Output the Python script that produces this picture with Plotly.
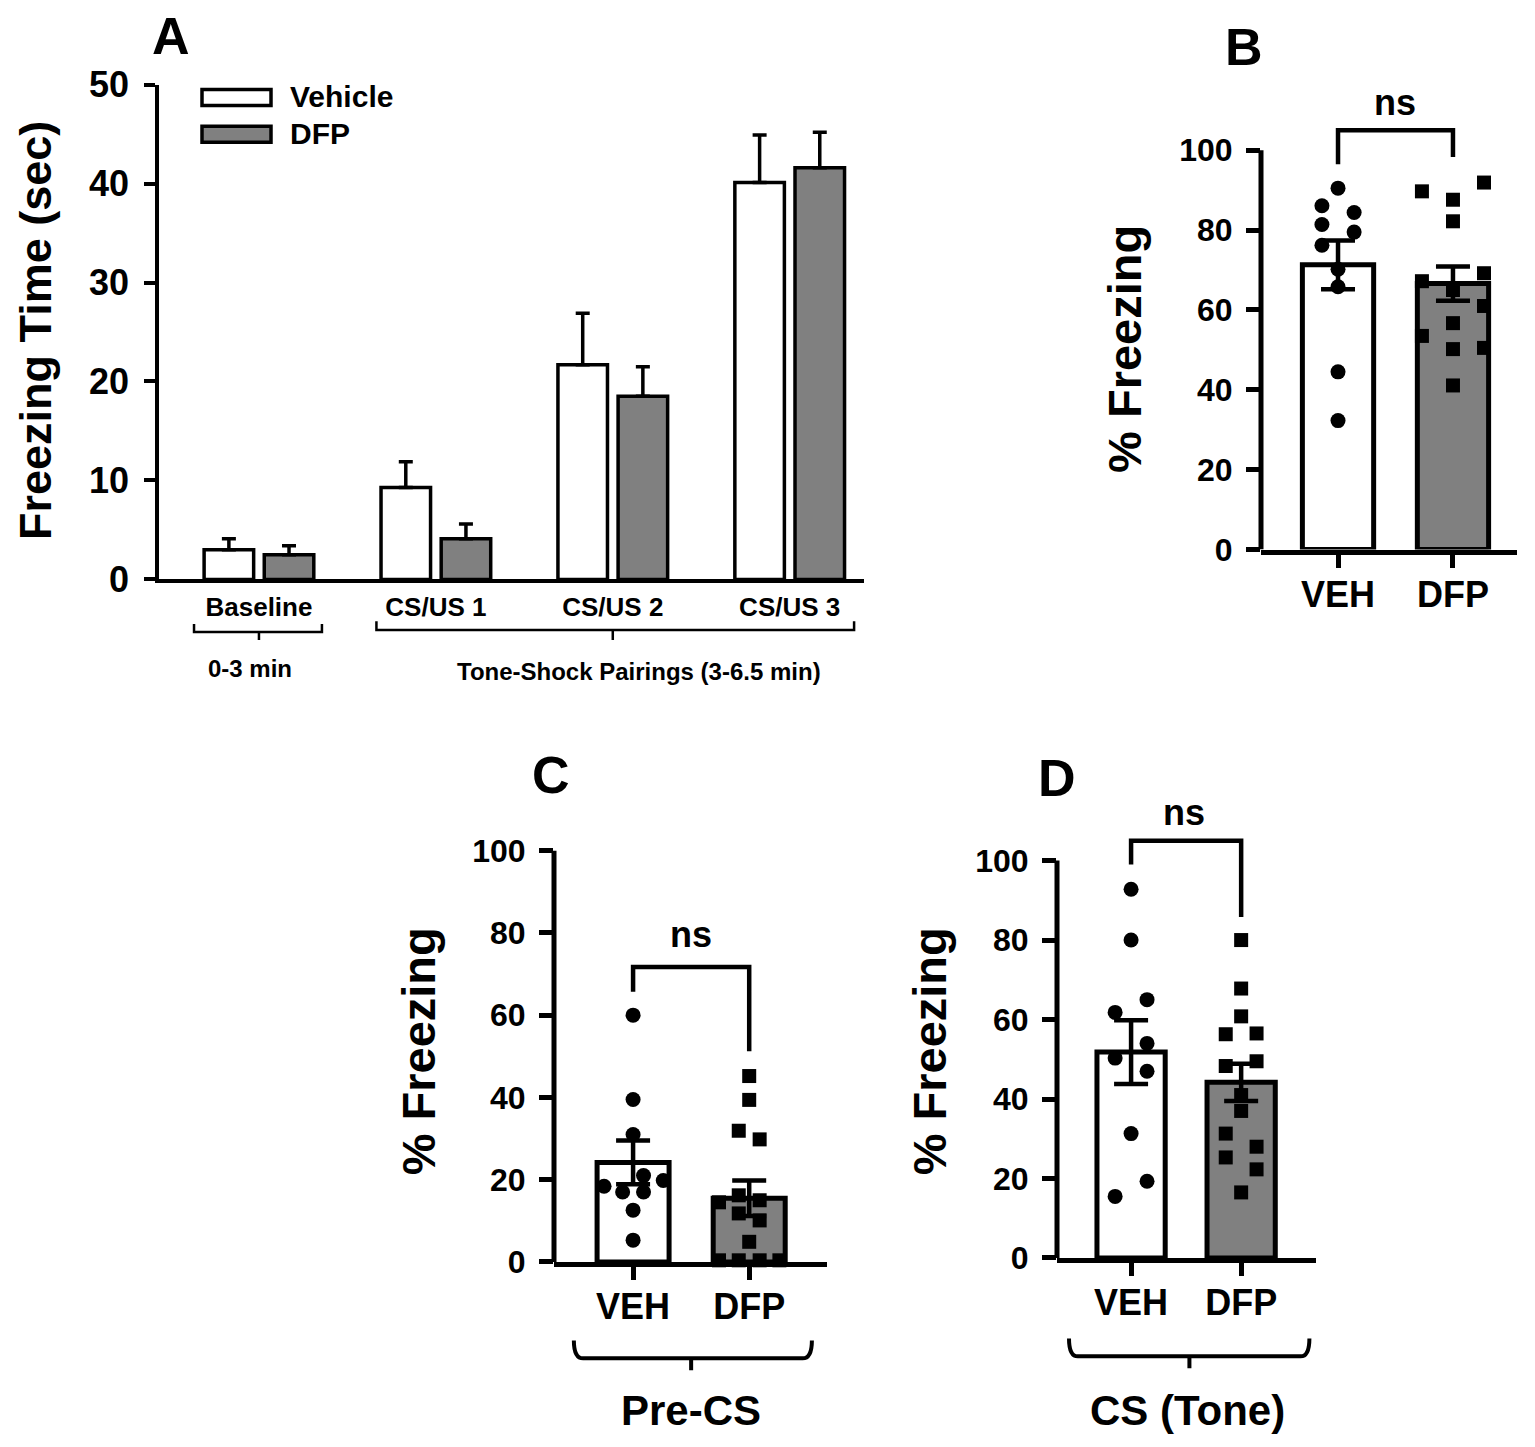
import plotly.graph_objects as go

W, H = 1535, 1447
FONT = "Liberation Sans, Arial, sans-serif"

# the page comes out slightly offset/squeezed in the photo; compensate
OX, OY, SY = 4, 25, 0.978


def fx(px):
    return (px - OX) / W


def fy(py):
    return (H - (py - OY) / SY) / H


# --- Panel A: freezing time during conditioning ---
a_categories = ["Baseline", "CS/US 1", "CS/US 2", "CS/US 3"]
a_vehicle = [3.0, 9.3, 21.7, 40.1]
a_vehicle_err = [1.1, 2.6, 5.2, 4.8]
a_dfp = [2.5, 4.1, 18.5, 41.6]
a_dfp_err = [0.9, 1.5, 3.0, 3.6]

# --- Panel B: contextual % freezing ---
b_veh = [90.5, 86.1, 84.4, 81.4, 79.5, 76.2, 70.2, 65.8, 44.5, 32.3]
b_veh_jit = [0, -0.14, 0.14, -0.14, 0.14, -0.14, 0, 0, 0, 0]
b_dfp = [91.9, 89.7, 87.6, 82.2, 69.2, 67.2, 65.0, 61.0, 56.7, 53.5, 50.2, 50.5, 41.1]
b_dfp_jit = [0.27, -0.27, 0, 0, 0.27, -0.27, 0, 0.27, 0, -0.27, 0, 0.27, 0]
b_means = [71.3, 66.6]
b_sems = [6.1, 4.3]

# --- Panel C: Pre-CS % freezing ---
c_veh = [60.0, 39.5, 31.0, 21.0, 19.8, 18.4, 17.0, 17.0, 12.6, 5.3]
c_veh_jit = [0, 0, 0, 0.09, 0.26, -0.25, -0.09, 0.09, 0, 0]
c_dfp = [45.2, 39.4, 31.9, 29.8, 16.2, 15.0, 14.5, 11.8, 10.1, 4.9, 0.4, 0.4, 0.4, 0.4]
c_dfp_jit = [0, 0, -0.09, 0.09, -0.09, 0.09, -0.26, -0.09, 0.09, 0, -0.26, -0.09, 0.09, 0.26]
c_means = [24.2, 15.5]
c_sems = [5.3, 4.3]

# --- Panel D: CS (tone) % freezing ---
d_veh = [92.8, 80.0, 65.0, 61.8, 54.0, 50.3, 47.0, 31.3, 19.3, 15.5]
d_veh_jit = [0, 0, 0.145, -0.145, 0.145, -0.145, 0.145, 0, 0.145, -0.145]
d_dfp = [80.0, 67.8, 60.8, 56.3, 56.5, 48.3, 49.5, 41.0, 37.0, 31.3, 28.0, 25.3, 22.3, 16.5]
d_dfp_jit = [0, 0, 0, -0.14, 0.14, -0.14, 0.14, 0, 0, -0.14, 0.14, -0.14, 0.14, 0]
d_means = [51.8, 44.2]
d_sems = [8.0, 4.7]

groups = ["VEH", "DFP"]
GRAY = "#808080"

fig = go.Figure()

# Panel A bars
fig.add_trace(go.Bar(
    x=[1, 2, 3, 4], y=a_vehicle, width=0.28, offset=-0.31,
    marker=dict(color="white", line=dict(color="black", width=3.5)),
    error_y=dict(type="data", array=a_vehicle_err, arrayminus=[0] * 4, symmetric=False,
                 color="black", thickness=3.5, width=7),
    xaxis="x", yaxis="y", name="Vehicle"))
fig.add_trace(go.Bar(
    x=[1, 2, 3, 4], y=a_dfp, width=0.28, offset=0.03,
    marker=dict(color=GRAY, line=dict(color="black", width=3.5)),
    error_y=dict(type="data", array=a_dfp_err, arrayminus=[0] * 4, symmetric=False,
                 color="black", thickness=3.5, width=7),
    xaxis="x", yaxis="y", name="DFP"))


def add_dot_panel(n, means, sems, veh, veh_jit, dfp, dfp_jit):
    xa, ya = "x%d" % n, "y%d" % n
    fig.add_trace(go.Bar(
        x=[1, 2], y=means, width=0.62,
        marker=dict(color=["white", GRAY], line=dict(color="black", width=5)),
        xaxis=xa, yaxis=ya))
    fig.add_trace(go.Scatter(
        x=[1 + j for j in veh_jit], y=veh, mode="markers",
        marker=dict(symbol="circle", size=15, color="black"),
        xaxis=xa, yaxis=ya, cliponaxis=False))
    fig.add_trace(go.Scatter(
        x=[2 + j for j in dfp_jit], y=dfp, mode="markers",
        marker=dict(symbol="square", size=14, color="black"),
        xaxis=xa, yaxis=ya, cliponaxis=False))
    # mean +/- SEM drawn on top
    fig.add_trace(go.Scatter(
        x=[1, 2], y=means, mode="markers",
        marker=dict(size=1, color="rgba(0,0,0,0)"),
        error_y=dict(type="data", array=sems, color="black", thickness=4.5, width=17),
        xaxis=xa, yaxis=ya))


add_dot_panel(2, b_means, b_sems, b_veh, b_veh_jit, b_dfp, b_dfp_jit)
add_dot_panel(3, c_means, c_sems, c_veh, c_veh_jit, c_dfp, c_dfp_jit)
add_dot_panel(4, d_means, d_sems, d_veh, d_veh_jit, d_dfp, d_dfp_jit)

tick_font = dict(family=FONT, size=32, color="black", weight="bold")
xcat_font = dict(family=FONT, size=36, color="black", weight="bold")


def yax(domain, rng):
    return dict(domain=domain, range=rng, tickvals=[0, 20, 40, 60, 80, 100],
                ticks="outside", ticklen=14, tickwidth=5, tickcolor="black",
                showline=False, showgrid=False, zeroline=False, ticklabelstandoff=7,
                tickfont=tick_font, fixedrange=True)


def xax(domain, rng, anchor):
    return dict(domain=domain, range=rng, anchor=anchor, tickvals=[1, 2], ticktext=groups,
                ticks="outside", ticklen=13, tickwidth=5, tickcolor="black",
                showline=True, linewidth=5, linecolor="black",
                showgrid=False, zeroline=False, tickfont=xcat_font, ticklabelstandoff=-4)


fig.update_layout(
    width=W, height=H, margin=dict(l=0, r=0, t=0, b=0),
    paper_bgcolor="white", plot_bgcolor="white", showlegend=False,
    barmode="overlay", font=dict(family=FONT, color="black"),
    xaxis=dict(domain=[fx(155), fx(860)], range=[0.435, 4.42], anchor="y",
               tickvals=[1, 2, 3, 4], ticktext=a_categories, ticks="",
               showline=True, linewidth=3.5, linecolor="black", showgrid=False,
               zeroline=False, ticklabelstandoff=2,
               tickfont=dict(family=FONT, size=26, color="black", weight="bold")),
    yaxis=dict(domain=[fy(580), fy(82)], range=[0, 50], anchor="x", dtick=10,
               ticks="outside", ticklen=11, tickwidth=3.5, tickcolor="black",
               showline=True, linewidth=3.5, linecolor="black", showgrid=False,
               zeroline=False, ticklabelstandoff=8,
               tickfont=dict(family=FONT, size=36, color="black", weight="bold")),
    xaxis2=xax([fx(1257), fx(1513)], [0.33, 2.557], "y2"),
    yaxis2=dict(yax([fy(550), fy(550 - 118 * 4.02)], [0, 118]), anchor="x2"),
    xaxis3=xax([fx(550), fx(823)], [0.319, 2.67], "y3"),
    yaxis3=dict(yax([fy(1267), fy(1267 - 105 * 4.14)], [0, 105]), anchor="x3"),
    xaxis4=xax([fx(1053), fx(1312)], [0.327, 2.68], "y4"),
    yaxis4=dict(yax([fy(1263), fy(1263 - 118 * 4.0)], [0, 118]), anchor="x4"),
)

shapes = []
# y-axis lines that stop at 100
for n, xpx in [(2, 1257), (3, 550), (4, 1053)]:
    shapes.append(dict(type="line", xref="paper", yref="y%d" % n, x0=fx(xpx), x1=fx(xpx),
                       y0=0, y1=100, line=dict(color="black", width=5)))

# significance brackets
for n, yl, yt, yr in [(2, 96.5, 105, 98.3), (3, 65.7, 71.7, 51.2), (4, 99, 105, 85.8)]:
    shapes.append(dict(type="path", xref="x%d" % n, yref="y%d" % n,
                       path="M 1,%s L 1,%s L 2,%s L 2,%s" % (yl, yt, yt, yr),
                       line=dict(color="black", width=4.5)))

# panel A legend swatches
shapes.append(dict(type="rect", xref="paper", yref="paper", x0=fx(198), x1=fx(267),
                   y0=fy(103), y1=fy(87), fillcolor="white", line=dict(color="black", width=3.5)))
shapes.append(dict(type="rect", xref="paper", yref="paper", x0=fx(198), x1=fx(267),
                   y0=fy(140), y1=fy(124), fillcolor=GRAY, line=dict(color="black", width=3.5)))

# panel A group brackets
for x0, x1, xc, yend, yline, ytick in [(0.633, 1.356, 1.0, 625, 633, 641),
                                       (1.664, 4.364, 3.0, 622, 631, 641)]:
    shapes.append(dict(type="path", xref="x", yref="paper",
                       path="M %s,%s L %s,%s L %s,%s L %s,%s M %s,%s L %s,%s" % (
                           x0, fy(yend), x0, fy(yline), x1, fy(yline), x1, fy(yend),
                           xc, fy(yline), xc, fy(ytick)),
                       line=dict(color="black", width=2.5)))

# panels C/D bottom curly brackets
for n, x0, x1, xc in [(3, 0.49, 2.54, 1.5), (4, 0.436, 2.62, 1.53)]:
    yb = 1364 if n == 3 else 1362
    d = 0.08
    path = ("M %s,%s Q %s,%s %s,%s L %s,%s Q %s,%s %s,%s M %s,%s L %s,%s" % (
        x0, fy(yb - 18), x0, fy(yb), x0 + d, fy(yb), x1 - d, fy(yb), x1, fy(yb), x1, fy(yb - 18),
        xc, fy(yb), xc, fy(yb + 12)))
    shapes.append(dict(type="path", xref="x%d" % n, yref="paper", path=path,
                       line=dict(color="black", width=4)))

fig.update_layout(shapes=shapes)


def bold(t):
    return "<b>%s</b>" % t


def note(txt, x, y, size, xref="paper", yref="paper", angle=0, xanchor="center"):
    return dict(text=bold(txt), xref=xref, yref=yref, x=x, y=y, textangle=angle,
                xanchor=xanchor, yanchor="middle", showarrow=False,
                font=dict(size=size, family=FONT, color="black"))


ann = []
for txt, xp, yp in [("A", 167, 33), ("B", 1240, 44), ("C", 547, 777), ("D", 1053, 780)]:
    ann.append(note(txt, fx(xp), fy(yp), 52))
ann.append(note("Freezing Time (sec)", fx(31), fy(330), 45, angle=-90))
for xp, yp in [(1121, 348), (414, 1055), (925, 1055)]:
    ann.append(note("% Freezing", fx(xp), fy(yp), 47, angle=-90))
for txt, yp in [("Vehicle", 94), ("DFP", 131)]:
    ann.append(note(txt, fx(284), fy(yp), 30, xanchor="left"))
for n, xv, yv in [(2, 1.5, 112), (3, 1.5, 79.5), (4, 1.48, 112)]:
    ann.append(note("ns", xv, yv, 36, xref="x%d" % n, yref="y%d" % n))
ann.append(note("0-3 min", 0.95, fy(670), 24, xref="x"))
ann.append(note("Tone-Shock Pairings (3-6.5 min)", 3.15, fy(673), 24, xref="x"))
ann.append(note("Pre-CS", 1.5, fy(1417), 42, xref="x3"))
ann.append(note("CS (Tone)", 1.51, fy(1417), 42, xref="x4"))
fig.update_layout(annotations=ann)

fig.write_html("out.html")
